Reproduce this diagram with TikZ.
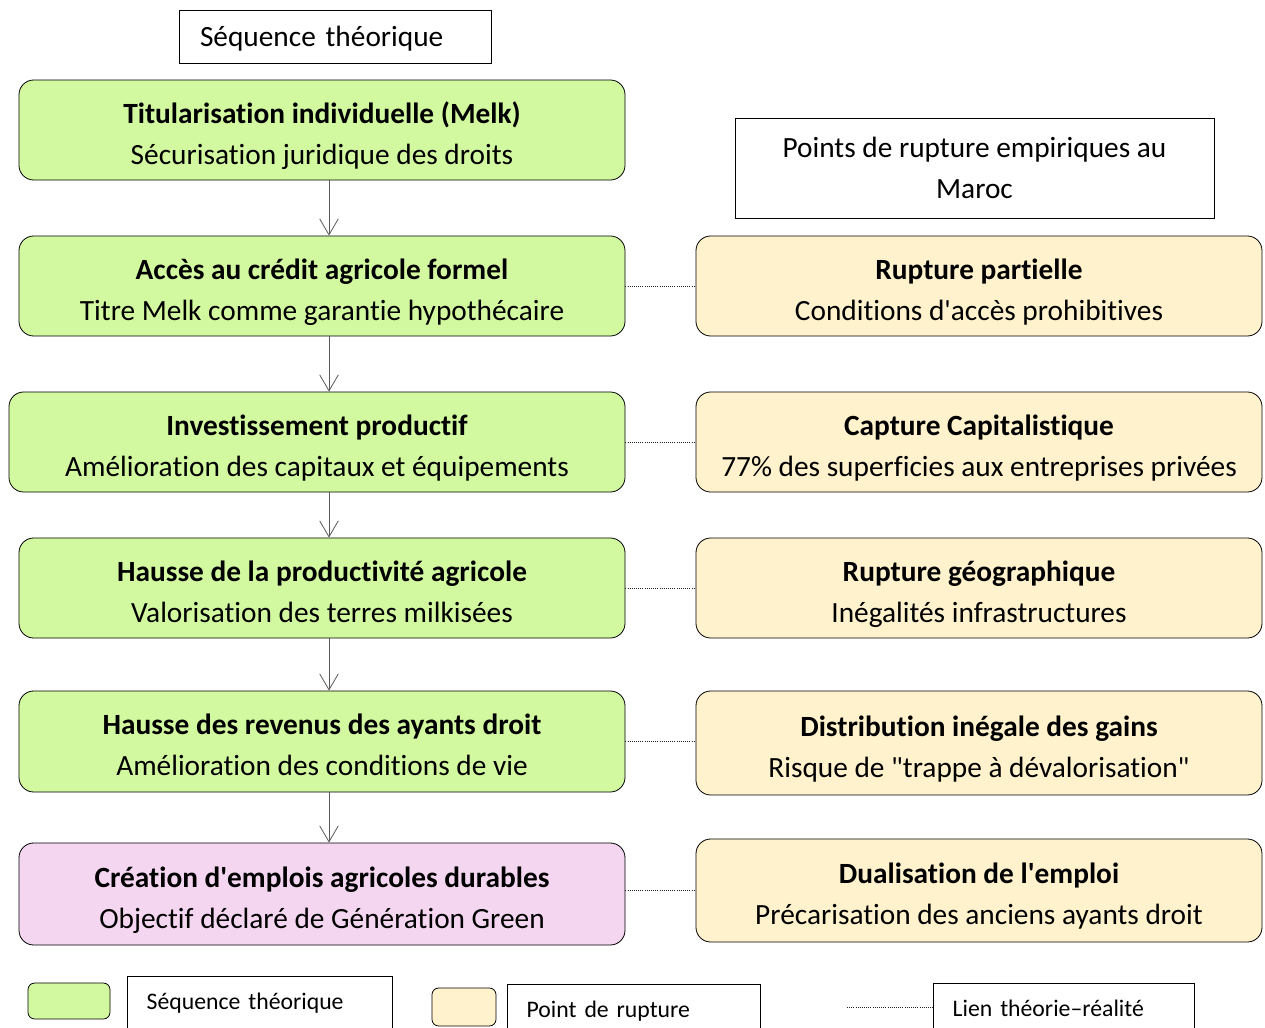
\documentclass[tikz,border=0pt]{standalone}
\usepackage{fontspec}
\setmainfont{Carlito}[Ligatures={TeXOff,NoCommon}]
\usepackage{tikz}
\usetikzlibrary{arrows.meta}
\usetikzlibrary{calc}
\usetikzlibrary{positioning}

\definecolor{seqgreen}{RGB}{211,249,160}
\definecolor{ruptan}{RGB}{255,242,204}
\definecolor{goalpink}{RGB}{244,214,240}

\begin{document}
\begin{tikzpicture}[
  x=0.75pt, y=-0.75pt,
  every node/.style={font=\fontsize{22}{30.75}\selectfont},
	headbox/.style={
	draw,
	fill=white,
	rectangle,
	line width=0.5pt,
	inner sep=0pt},
	seqbox/.style={
	draw,
	fill=seqgreen,
	rectangle,
	rounded corners=11pt,
	line width=0.6pt,
	align=center,
	text height=51pt,
	text depth=0pt,
	minimum width=454.5pt,
	minimum height=75pt},
	rupbox/.style={
	seqbox,
	fill=ruptan,
	minimum width=424.5pt},
	legbox/.style={
	draw,
	fill=white,
	rectangle,
	line width=0.5pt,
	anchor=north west,
	align=left,
	inner ysep=0pt,
	inner xsep=14.5pt,
	text height=24.75pt,
	text depth=40pt,
	font=\fontsize{17.8}{20}\selectfont},
	swatch/.style={
	draw,
	rectangle,
	rounded corners=5pt,
	line width=0.6pt},
  arrow1/.style={
  draw=black!65,
  line width=0.6pt,
  -{Straight Barb[length=12pt, width=14pt, line width=0.6pt]}
  },
  link/.style={
  densely dotted,
  line width=0.6pt,
  draw=black!85
  }]

	\clip (0,0) rectangle (1265,1028);

	% Headers
	\node [headbox, text width=202.5pt, inner xsep=15.75pt, minimum height=39.75pt, text depth=-1.5pt, align=left] at (335,36.5) (headseq) {Séquence théorique};
	\node [headbox, minimum width=359.25pt, minimum height=75pt, align=center] at (974.5,168) (headrup) {Points de rupture empiriques au\\Maroc};

	% Theoretical sequence
	\node [seqbox] at (322,130)   (s1) {\textbf{Titularisation individuelle (Melk)}\\Sécurisation juridique des droits};
	\node [seqbox] at (322,286)   (s2) {\textbf{Accès au crédit agricole formel}\\Titre Melk comme garantie hypothécaire};
	\node [seqbox, minimum width=462pt] at (317,442) (s3) {\textbf{Investissement productif}\\Amélioration des capitaux et équipements};
	\node [seqbox] at (322,588)   (s4) {\textbf{Hausse de la productivité agricole}\\Valorisation des terres milkisées};
	\node [seqbox, minimum height=75.75pt] at (322,741.5) (s5) {\textbf{Hausse des revenus des ayants droit}\\Amélioration des conditions de vie};
	\node [seqbox, fill=goalpink, minimum height=76.5pt] at (322,894) (s6) {\textbf{Création d'emplois agricoles durables}\\Objectif déclaré de Génération Green};

	% Rupture points
	\node [rupbox] at (979,286)   (r1) {\textbf{Rupture partielle}\\Conditions d'accès prohibitives};
	\node [rupbox] at (979,442)   (r2) {\textbf{Capture Capitalistique}\\77\% des superficies aux entreprises privées};
	\node [rupbox] at (979,588)   (r3) {\textbf{Rupture géographique}\\Inégalités infrastructures};
	\node [rupbox, minimum height=78pt] at (979,743) (r4) {\textbf{Distribution inégale des gains}\\Risque de "trappe à dévalorisation"};
	\node [rupbox, minimum height=77.25pt] at (979,890.5) (r5) {\textbf{Dualisation de l'emploi}\\Précarisation des anciens ayants droit};

	% Sequence arrows
	\coordinate (axis) at (329,0);
	\draw[arrow1] (s1.south -| axis) -- (s2.north -| axis);
	\draw[arrow1] (s2.south -| axis) -- (s3.north -| axis);
	\draw[arrow1] (s3.south -| axis) -- (s4.north -| axis);
	\draw[arrow1] (s4.south -| axis) -- (s5.north -| axis);
	\draw[arrow1] (s5.south -| axis) -- (s6.north -| axis);

	% Links theory - reality
	\draw[link] (s2.east) -- (r1.west);
	\draw[link] (s3.east) -- (r2.west);
	\draw[link] (s4.east) -- (r3.west);
	\draw[link] (s5.east) -- (s5.east -| r4.west);
	\draw[link] (r5.west -| s6.east) -- (r5.west);

	% Legend
	\node [swatch, fill=seqgreen, minimum width=61.5pt, minimum height=27pt] at (69,1001) (lg1) {};
	\node [legbox, text width=169.5pt] at (127,976) (lt1) {Séquence théorique};
	\node [swatch, fill=ruptan, minimum width=48pt, minimum height=28.5pt] at (464,1007) (lg2) {};
	\node [legbox, text width=160.5pt] at (507,984) (lt2) {Point de rupture};
	\node [legbox, text width=166.5pt] at (933,983) (lt3) {Lien théorie–réalité};
	\coordinate (lk) at (847,1007);
	\draw[link] (lk) -- (lk -| lt3.west);

\end{tikzpicture}
\end{document}
